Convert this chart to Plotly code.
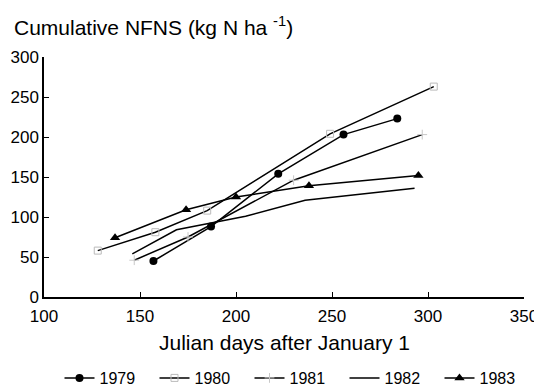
import plotly.graph_objects as go

# ---- data ----
x1979 = [157, 187, 222, 256, 284]
y1979 = [45, 88, 154, 203, 223]

x1980 = [128, 158, 185, 249, 303]
y1980 = [58, 81, 108, 204, 263]

x1981 = [147, 175, 230, 297]
y1981 = [46, 75, 146, 203]

x1982 = [146, 169, 205, 236, 293]
y1982 = [54, 84, 101, 121, 136]

x1983 = [137, 174, 200, 238, 295]
y1983 = [74, 109, 125, 139, 152]

x_ticks = [100, 150, 200, 250, 300, 350]
y_ticks = [0, 50, 100, 150, 200, 250, 300]

FONT = "Liberation Sans, Arial, Helvetica, sans-serif"
LINE = dict(color="black", width=1.5)

# the page body adds an 8px offset; size the figure so it fills the 542x387 window
W, H = 534, 379

fig = go.Figure()
fig.add_trace(go.Scatter(x=x1979, y=y1979, name="1979", mode="lines+markers",
                         line=LINE, marker=dict(symbol="circle", size=8, color="black")))
fig.add_trace(go.Scatter(x=x1980, y=y1980, name="1980", mode="lines+markers",
                         line=LINE, marker=dict(symbol="square-open", size=7, color="#bbbbbb",
                                                line=dict(width=1))))
fig.add_trace(go.Scatter(x=x1981, y=y1981, name="1981", mode="lines+markers",
                         line=LINE, marker=dict(symbol="cross-thin-open", size=7, color="#c8c8c8",
                                                line=dict(width=1, color="#c8c8c8"))))
fig.add_trace(go.Scatter(x=x1982, y=y1982, name="1982", mode="lines",
                         line=LINE))
fig.add_trace(go.Scatter(x=x1983, y=y1983, name="1983", mode="lines+markers",
                         line=LINE, marker=dict(symbol="triangle-up", size=9, color="black")))

fig.update_layout(
    width=W, height=H,
    margin=dict(l=36, r=18, t=49, b=90, autoexpand=False),
    paper_bgcolor="white", plot_bgcolor="white",
    font=dict(family=FONT, size=17, color="black"),
    showlegend=True,
    legend=dict(orientation="h", xref="container", yref="container",
                x=(297 - 8) / W, xanchor="center", y=1 - (378 - 8) / H, yanchor="middle",
                font=dict(size=16), itemwidth=30, entrywidth=50, entrywidthmode="pixels",
                bgcolor="rgba(0,0,0,0)"),
    xaxis=dict(range=[100, 350], tickvals=x_ticks, ticktext=[str(v) for v in x_ticks],
               showgrid=False, zeroline=False, showline=True, linecolor="black", linewidth=1.5,
               ticks="inside", ticklen=5, tickcolor="black", tickfont=dict(size=17),
               ticklabelstandoff=3, automargin=False),
    yaxis=dict(range=[0, 300], tickvals=y_ticks, ticktext=[str(v) for v in y_ticks],
               showgrid=False, zeroline=False, showline=True, linecolor="black", linewidth=1.5,
               ticks="inside", ticklen=5, tickcolor="black", tickfont=dict(size=17),
               automargin=False),
    annotations=[
        dict(text="Cumulative NFNS (kg N ha <sup>-1</sup>)", xref="paper", yref="paper",
             x=-0.066, y=1.128, xanchor="left", yanchor="middle", showarrow=False,
             font=dict(size=21)),
        dict(text="Julian days after January 1", xref="paper", yref="paper",
             x=0.5, y=-0.189, xanchor="center", yanchor="middle", showarrow=False,
             font=dict(size=21)),
    ],
)

fig.write_html("out.html")
